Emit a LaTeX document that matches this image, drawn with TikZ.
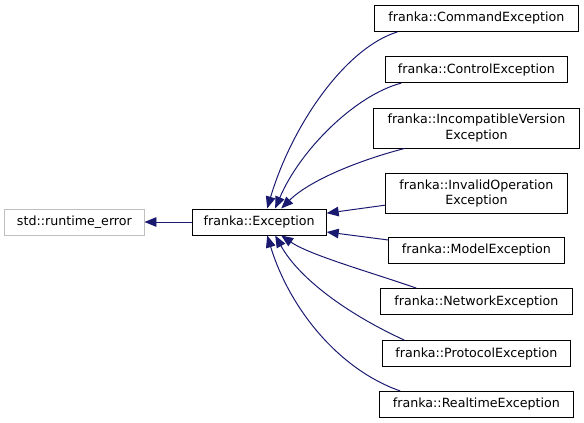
\documentclass[tikz,border=0pt]{standalone}
\usepackage{fontspec}
\setmainfont{DejaVu Sans}
\usetikzlibrary{arrows.meta,positioning}
\definecolor{edgeblue}{HTML}{191970}
\definecolor{extgray}{HTML}{BFBFBF}

\begin{document}
\begin{tikzpicture}[>={Triangle[length=0.3cm,width=0.24cm]},
  every node/.style={font=\fontsize{9}{10.7}\selectfont},
  cls/.style={draw, line width=0.7pt, inner sep=2pt, align=center,
              minimum height=0.65cm},
  inh/.style={->, edgeblue, line width=0.7pt}]
  \useasboundingbox (0,0) rectangle (14.6,-10.575);
  % Base classes
  \node[cls, draw=extgray, minimum width=3.48cm] (rt)  at (1.86,-5.55) {std::runtime\_error};
  \node[cls, minimum width=3.35cm]               (exc) at (6.48,-5.55) {franka::Exception};
  % Derived classes
  \node[cls, minimum width=5.08cm] (cmd) at (11.91,-0.46)  {franka::CommandException};
  \node[cls, minimum width=4.53cm] (ctl) at (11.91,-1.74)  {franka::ControlException};
  \node[cls, minimum width=5.13cm, minimum height=1.0cm] (inc) at (11.91,-3.20)
    {franka::IncompatibleVersion\\Exception};
  \node[cls, minimum width=4.55cm, minimum height=1.0cm] (inv) at (11.91,-4.83)
    {franka::InvalidOperation\\Exception};
  \node[cls, minimum width=4.38cm] (mdl) at (11.91,-6.26)  {franka::ModelException};
  \node[cls, minimum width=4.78cm] (net) at (11.91,-7.54)  {franka::NetworkException};
  \node[cls, minimum width=4.68cm] (pro) at (11.91,-8.84)  {franka::ProtocolException};
  \node[cls, minimum width=4.85cm] (rte) at (11.91,-10.11) {franka::RealtimeException};
  % Inheritance arrows
  \draw[inh] (exc.west) -- (rt.east);
  \draw[inh] ([xshift=0.58cm]cmd.south west)
    .. controls (8.63,-1.20) and (7.30,-3.13) .. ([xshift=0.2cm]exc.north);
  \draw[inh] ([xshift=0.40cm]ctl.south west)
    .. controls (8.88,-2.38) and (7.50,-3.75) .. ([xshift=0.4cm]exc.north);
  \draw[inh] ([xshift=0.78cm]inc.south west)
    .. controls (9.00,-4.00) and (7.75,-4.50) .. ([xshift=0.55cm]exc.north);
  \draw[inh] ([yshift=-0.3cm]inv.west) -- ([yshift=0.22cm]exc.east);
  \draw[inh] ([yshift=0.26cm]mdl.west) -- ([yshift=-0.25cm]exc.east);
  \draw[inh] ([xshift=0.90cm]net.north west)
    .. controls (9.25,-6.80) and (7.75,-6.38) .. ([xshift=0.55cm]exc.south);
  \draw[inh] ([xshift=0.55cm]pro.north west)
    .. controls (8.75,-7.88) and (7.50,-7.00) .. ([xshift=0.4cm]exc.south);
  \draw[inh] ([xshift=0.53cm]rte.north west)
    .. controls (8.50,-9.25) and (7.25,-7.75) .. ([xshift=0.2cm]exc.south);
\end{tikzpicture}
\end{document}
